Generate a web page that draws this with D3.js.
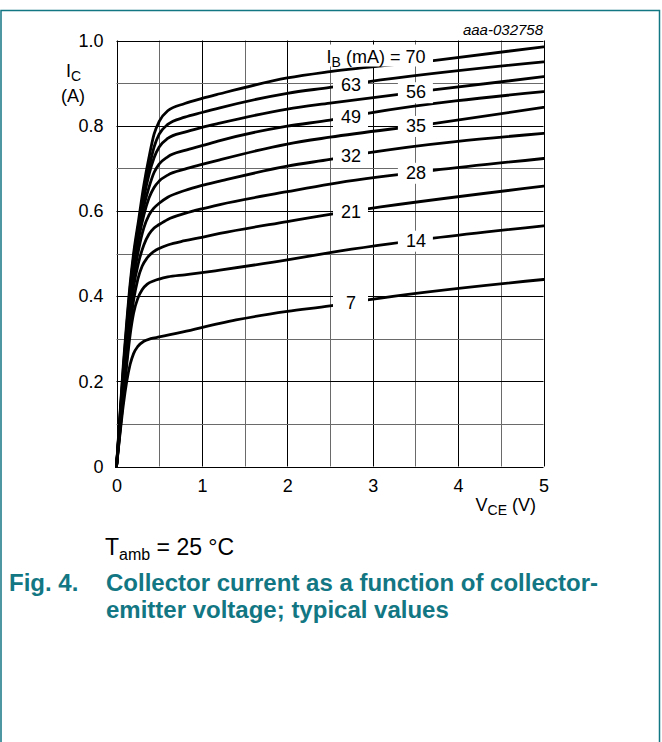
<!DOCTYPE html>
<html><head><meta charset="utf-8">
<script src="https://cdn.jsdelivr.net/npm/d3@7"></script>
<style>body{margin:0;background:#fff}svg{display:block}</style>
</head><body>
<script>
// ---- data ----
const vceTicks = [0, 1, 2, 3, 4, 5];
const icTicks = [0, 0.2, 0.4, 0.6, 0.8, 1.0];
const ibLabels = [70, 63, 56, 49, 35, 32, 28, 21, 14, 7];

// [VCE (V), IC (A)]
const ic70 = [[0,0],[0.04,0.12],[0.08,0.24],[0.12,0.34],[0.16,0.43],[0.2,0.5],[0.26,0.58],[0.32,0.66],[0.38,0.725],[0.44,0.78],[0.5,0.81],[0.6,0.835],[0.8,0.852],[1.0,0.864],[1.21,0.875],[2,0.912],[2.5,0.927],[3.71,0.953],[5,0.985]];
const ic63 = [[0,0],[0.04,0.115],[0.08,0.23],[0.12,0.33],[0.16,0.42],[0.2,0.49],[0.26,0.57],[0.32,0.64],[0.38,0.7],[0.44,0.75],[0.5,0.78],[0.6,0.803],[0.8,0.82],[1.0,0.831],[1.21,0.842],[2,0.876],[2.5,0.89],[2.94,0.903],[5,0.95]];
const ic56 = [[0,0],[0.04,0.11],[0.08,0.22],[0.12,0.32],[0.16,0.41],[0.2,0.48],[0.26,0.56],[0.32,0.63],[0.38,0.685],[0.44,0.725],[0.5,0.75],[0.6,0.77],[0.8,0.785],[1.0,0.796],[1.21,0.806],[2,0.839],[2.5,0.853],[3.71,0.884],[5,0.915]];
const ic49 = [[0,0],[0.04,0.105],[0.08,0.21],[0.12,0.31],[0.16,0.4],[0.2,0.47],[0.26,0.55],[0.32,0.61],[0.38,0.655],[0.44,0.69],[0.5,0.71],[0.6,0.727],[0.8,0.742],[1.0,0.753],[1.21,0.765],[2,0.799],[2.5,0.813],[2.94,0.829],[5,0.88]];
const ic35 = [[0,0],[0.04,0.1],[0.08,0.2],[0.12,0.3],[0.16,0.39],[0.2,0.46],[0.26,0.535],[0.32,0.59],[0.38,0.63],[0.44,0.655],[0.5,0.67],[0.6,0.684],[0.8,0.698],[1.0,0.709],[1.21,0.72],[2,0.757],[2.5,0.773],[3.71,0.805],[5,0.843]];
const ic32 = [[0,0],[0.04,0.095],[0.08,0.19],[0.12,0.285],[0.16,0.37],[0.2,0.44],[0.26,0.51],[0.32,0.56],[0.38,0.59],[0.44,0.607],[0.5,0.618],[0.6,0.632],[0.8,0.648],[1.0,0.66],[1.21,0.67],[2,0.705],[2.5,0.721],[2.94,0.736],[5,0.782]];
const ic28 = [[0,0],[0.04,0.09],[0.08,0.18],[0.12,0.27],[0.16,0.35],[0.2,0.42],[0.26,0.48],[0.32,0.52],[0.38,0.545],[0.44,0.56],[0.5,0.568],[0.6,0.58],[0.8,0.594],[1.0,0.605],[1.21,0.615],[2,0.645],[2.5,0.663],[3.71,0.695],[5,0.723]];
const ic21 = [[0,0],[0.04,0.085],[0.08,0.17],[0.12,0.25],[0.16,0.33],[0.2,0.39],[0.25,0.44],[0.3,0.47],[0.36,0.49],[0.44,0.505],[0.5,0.512],[0.6,0.52],[0.8,0.53],[1.0,0.538],[1.21,0.547],[2,0.575],[2.5,0.592],[2.94,0.605],[5,0.658]];
const ic14 = [[0,0],[0.04,0.08],[0.08,0.16],[0.12,0.24],[0.16,0.31],[0.2,0.36],[0.25,0.395],[0.3,0.415],[0.36,0.428],[0.44,0.436],[0.5,0.44],[0.6,0.445],[0.8,0.45],[1.0,0.455],[1.21,0.461],[2,0.485],[2.5,0.502],[3.71,0.536],[5,0.565]];
const ic7  = [[0,0],[0.04,0.075],[0.08,0.145],[0.12,0.2],[0.16,0.24],[0.2,0.265],[0.25,0.282],[0.32,0.294],[0.4,0.3],[0.5,0.304],[0.78,0.316],[1.21,0.336],[1.4,0.344],[2,0.364],[2.5,0.377],[2.94,0.391],[5,0.439]];
const curves = [ic70, ic63, ic56, ic49, ic35, ic32, ic28, ic21, ic14, ic7];

// ---- layout ----
const W = 662, H = 742;
const FONT = "'Liberation Sans', Arial, Helvetica, sans-serif";
const TEAL = "#127683";
const svg = d3.select("body").append("svg").attr("width", W).attr("height", H)
  .style("font-family", FONT);

const x = d3.scaleLinear().domain([0, 5]).range([116.5, 543.5]);
const y = d3.scaleLinear().domain([0, 1]).range([466.5, 40.5]);

// frame
svg.append("rect").attr("x", 1).attr("y", 10.5).attr("width", 658.5).attr("height", 745)
  .attr("fill", "none").attr("stroke", TEAL).attr("stroke-width", 1.5);

// grid
const grid = svg.append("g");
d3.range(0, 11).forEach(i => {
  const px = Math.round(x(i * 0.5)) + 0.5;
  grid.append("line").attr("x1", px).attr("x2", px).attr("y1", y(0)).attr("y2", y(1))
    .attr("stroke", i % 2 ? "#6a6a6a" : "#000").attr("stroke-width", 1);
});
d3.range(0, 11).forEach(i => {
  const py = Math.round(y(i * 0.1)) + 0.5;
  grid.append("line").attr("x1", x(0)).attr("x2", x(5)).attr("y1", py).attr("y2", py)
    .attr("stroke", i % 2 ? "#6a6a6a" : "#000").attr("stroke-width", 1);
});

// axes (labels only)
const ax = svg.append("g").attr("transform", `translate(0,${y(0)})`)
  .call(d3.axisBottom(x).tickValues(vceTicks).tickSize(0).tickPadding(13).tickFormat(d3.format("d")));
const ay = svg.append("g").attr("transform", `translate(${x(0)},0)`)
  .call(d3.axisLeft(y).tickValues(icTicks).tickSize(0).tickPadding(13)
    .tickFormat(d => d === 0 ? "0" : d3.format(".1f")(d)));
[ax, ay].forEach(a => {
  a.select(".domain").remove();
  a.selectAll("text").attr("font-size", 18).attr("font-family", FONT).attr("fill", "#000");
});

// curves
const line = d3.line().x(d => x(d[0])).y(d => y(d[1])).curve(d3.curveMonotoneX);
svg.append("g").selectAll("path").data(curves).join("path")
  .attr("d", line).attr("fill", "none").attr("stroke", "#000")
  .attr("stroke-width", 2.8).attr("stroke-linejoin", "round").attr("stroke-linecap", "round");

// curve labels
function icAt(pts, v) {
  for (let i = 1; i < pts.length; i++) {
    if (v <= pts[i][0]) {
      const t = (v - pts[i-1][0]) / (pts[i][0] - pts[i-1][0]);
      return pts[i-1][1] + t * (pts[i][1] - pts[i-1][1]);
    }
  }
  return pts[pts.length - 1][1];
}
const lab = svg.append("g");
ibLabels.forEach((ib, i) => {
  if (i === 0) {
    const yy = y(icAt(curves[0], 3.71));
    lab.append("rect").attr("x", 318).attr("y", yy - 16).attr("width", 115).attr("height", 22).attr("fill", "#fff");
    const t = lab.append("text").attr("x", 376).attr("y", yy + 2).attr("text-anchor", "middle")
      .attr("font-size", 18);
    t.append("tspan").text("I");
    t.append("tspan").attr("font-size", 14).attr("dy", 4).text("B");
    t.append("tspan").attr("dy", -4).text(" (mA) = " + ib);
    return;
  }
  const lv = i % 2 ? 2.74 : 3.5;
  const cx = x(lv), cy = y(icAt(curves[i], lv));
  lab.append("rect").attr("x", cx - 17.5).attr("y", cy - 10).attr("width", 35).attr("height", 21).attr("fill", "#fff");
  lab.append("text").attr("x", cx + 0.5).attr("y", cy + 1.5).attr("text-anchor", "middle")
    .attr("dominant-baseline", "middle").attr("font-size", 18).text(ib);
});

// axis titles
const yt = svg.append("text").attr("x", 66).attr("y", 77).attr("font-size", 18);
yt.append("tspan").text("I");
yt.append("tspan").attr("font-size", 14).attr("dy", 4).text("C");
svg.append("text").attr("x", 61).attr("y", 102).attr("font-size", 18).text("(A)");

const xt = svg.append("text").attr("x", 536).attr("y", 511).attr("font-size", 18).attr("text-anchor", "end");
xt.append("tspan").text("V");
xt.append("tspan").attr("font-size", 14).attr("dy", 4).text("CE");
xt.append("tspan").attr("dy", -4).text(" (V)");

svg.append("text").attr("x", 543).attr("y", 35).attr("text-anchor", "end")
  .attr("font-size", 15).attr("font-style", "italic").text("aaa-032758");

// conditions
const tc = svg.append("text").attr("x", 105).attr("y", 555).attr("font-size", 23);
tc.append("tspan").text("T");
tc.append("tspan").attr("font-size", 16).attr("dy", 5).text("amb");
tc.append("tspan").attr("dy", -5).text(" = 25 °C");

// caption
const cap = svg.append("g").attr("fill", TEAL).attr("font-weight", "bold").attr("font-size", 24);
cap.append("text").attr("x", 9).attr("y", 591).text("Fig. 4.");
cap.append("text").attr("x", 106).attr("y", 591).text("Collector current as a function of collector-");
cap.append("text").attr("x", 106).attr("y", 618).text("emitter voltage; typical values");
</script>
</body></html>
